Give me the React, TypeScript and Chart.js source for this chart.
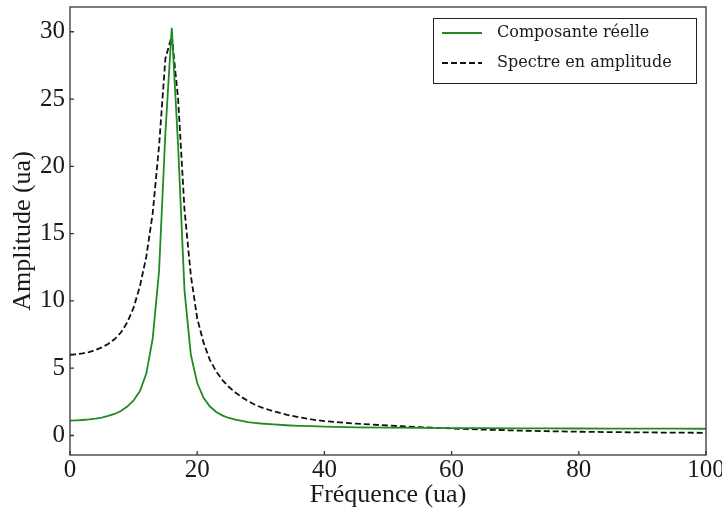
import React, { useEffect, useRef } from 'react';
import { Chart, registerables } from 'chart.js';

Chart.register(...registerables);

// Frequencies (ua) at which the curves were read
const freqs = [0, 1, 2, 3, 4, 5, 6, 7, 8, 9, 10, 11, 12, 13, 14, 15, 16, 17, 18, 19, 20, 21, 22, 23, 24, 25, 26, 27, 28, 29, 30, 32, 34, 36, 38, 40, 45, 50, 55, 60, 65, 70, 75, 80, 85, 90, 95, 100];

// Composante réelle
const realPart = [1.10, 1.12, 1.15, 1.19, 1.25, 1.33, 1.45, 1.60, 1.82, 2.15, 2.60, 3.30, 4.60, 7.20, 12.2, 22.5, 30.3, 21.5, 10.8, 6.0, 3.9, 2.8, 2.15, 1.75, 1.48, 1.30, 1.17, 1.08, 1.00, 0.94, 0.89, 0.82, 0.76, 0.72, 0.69, 0.66, 0.61, 0.585, 0.565, 0.55, 0.54, 0.535, 0.528, 0.52, 0.515, 0.51, 0.505, 0.50];

// Spectre en amplitude
const amplitude = [6.0, 6.03, 6.1, 6.2, 6.35, 6.55, 6.8, 7.15, 7.65, 8.4, 9.5, 11.1, 13.3, 16.5, 21.5, 28.0, 29.7, 25.0, 16.8, 11.9, 8.7, 6.9, 5.6, 4.75, 4.1, 3.6, 3.2, 2.85, 2.55, 2.3, 2.1, 1.8, 1.55, 1.35, 1.19, 1.07, 0.88, 0.74, 0.62, 0.52, 0.44, 0.37, 0.32, 0.28, 0.25, 0.23, 0.21, 0.20];

const xTicks = [0, 20, 40, 60, 80, 100];
const yTicks = [0, 5, 10, 15, 20, 25, 30];
const seriesLabels = ['Composante réelle', 'Spectre en amplitude'];
const xTitle = 'Fréquence (ua)';
const yTitle = 'Amplitude (ua)';

const AXIS_COLOR = '#333333';
const TEXT_COLOR = '#1a1a1a';
const SERIF = "'Liberation Serif', 'Times New Roman', serif";

const framePlugin = {
  id: 'frameAndLegend',
  afterDraw(chart: any) {
    const { ctx, chartArea: a, scales } = chart;
    ctx.save();
    // frame
    ctx.strokeStyle = AXIS_COLOR;
    ctx.lineWidth = 1.3;
    ctx.setLineDash([]);
    ctx.strokeRect(a.left, a.top, a.right - a.left, a.bottom - a.top);
    // inward ticks
    ctx.beginPath();
    scales.x.ticks.forEach((t: any) => {
      const px = scales.x.getPixelForValue(t.value);
      ctx.moveTo(px, a.bottom);
      ctx.lineTo(px, a.bottom - 4);
    });
    scales.y.ticks.forEach((t: any) => {
      const py = scales.y.getPixelForValue(t.value);
      ctx.moveTo(a.left, py);
      ctx.lineTo(a.left + 4, py);
    });
    ctx.stroke();

    // legend
    const w = 263;
    const h = 65;
    const x0 = a.right - 273;
    const y0 = a.top + 11;
    ctx.fillStyle = '#ffffff';
    ctx.fillRect(x0, y0, w, h);
    ctx.strokeStyle = '#222222';
    ctx.lineWidth = 1;
    ctx.strokeRect(x0 + 0.5, y0 + 0.5, w, h);
    chart.data.datasets.forEach((ds: any, i: number) => {
      const y = y0 + 15 + i * 30;
      ctx.beginPath();
      ctx.strokeStyle = ds.borderColor;
      ctx.lineWidth = ds.borderWidth;
      ctx.setLineDash(ds.borderDash || []);
      ctx.moveTo(x0 + 9, y);
      ctx.lineTo(x0 + 49, y);
      ctx.stroke();
      ctx.setLineDash([]);
      ctx.fillStyle = TEXT_COLOR;
      ctx.font = "16px 'DejaVu Serif', serif";
      ctx.textBaseline = 'middle';
      ctx.textAlign = 'left';
      ctx.fillText(ds.label, x0 + 64, y);
    });
    ctx.restore();
  },
};

export default function App() {
  const ref = useRef<HTMLCanvasElement | null>(null);

  useEffect(() => {
    if (!ref.current) return;
    const chart = new Chart(ref.current, {
      type: 'line',
      data: {
        datasets: [
          {
            label: seriesLabels[0],
            data: freqs.map((f, i) => ({ x: f, y: realPart[i] })),
            borderColor: '#1f8b24',
            borderWidth: 1.8,
            pointRadius: 0,
            fill: false,
            tension: 0,
          },
          {
            label: seriesLabels[1],
            data: freqs.map((f, i) => ({ x: f, y: amplitude[i] })),
            borderColor: '#111111',
            borderWidth: 1.8,
            borderDash: [6, 3],
            pointRadius: 0,
            fill: false,
            tension: 0,
          },
        ],
      },
      options: {
        animation: false,
        responsive: false,
        devicePixelRatio: 1,
        layout: { padding: { top: 7, right: 16, left: 0, bottom: 0 } },
        plugins: {
          legend: { display: false },
          tooltip: { enabled: false },
        },
        scales: {
          x: {
            type: 'linear',
            min: 0,
            max: 100,
            afterBuildTicks: (s: any) => {
              s.ticks = xTicks.map((v) => ({ value: v }));
            },
            afterFit: (s: any) => {
              s.height = 61;
              s.paddingLeft = 0;
              s.paddingRight = 0;
            },
            grid: { display: false, drawTicks: false, tickLength: 0 },
            border: { display: false },
            ticks: {
              font: { family: SERIF, size: 25 },
              color: TEXT_COLOR,
              padding: 0,
              maxRotation: 0,
              autoSkip: false,
            },
            title: {
              display: true,
              text: xTitle,
              font: { family: SERIF, size: 26 },
              color: TEXT_COLOR,
              padding: { top: 0, bottom: 5 },
            },
          },
          y: {
            type: 'linear',
            min: -1.45,
            max: 31.84,
            afterBuildTicks: (s: any) => {
              s.ticks = yTicks.map((v) => ({ value: v }));
            },
            afterFit: (s: any) => {
              s.width = 70;
              s.paddingTop = 0;
              s.paddingBottom = 0;
            },
            grid: { display: false, drawTicks: false, tickLength: 0 },
            border: { display: false },
            ticks: {
              font: { family: SERIF, size: 25 },
              color: TEXT_COLOR,
              padding: 5,
              autoSkip: false,
            },
            title: {
              display: true,
              text: yTitle,
              font: { family: SERIF, size: 26 },
              color: TEXT_COLOR,
              padding: { top: 8, bottom: 0 },
            },
          },
        },
      },
      plugins: [framePlugin],
    });
    return () => chart.destroy();
  }, []);

  return (
    <div style={{ position: 'absolute', left: 0, top: 0, width: 722, height: 516, background: '#ffffff' }}>
      <canvas ref={ref} width={722} height={516} />
    </div>
  );
}
